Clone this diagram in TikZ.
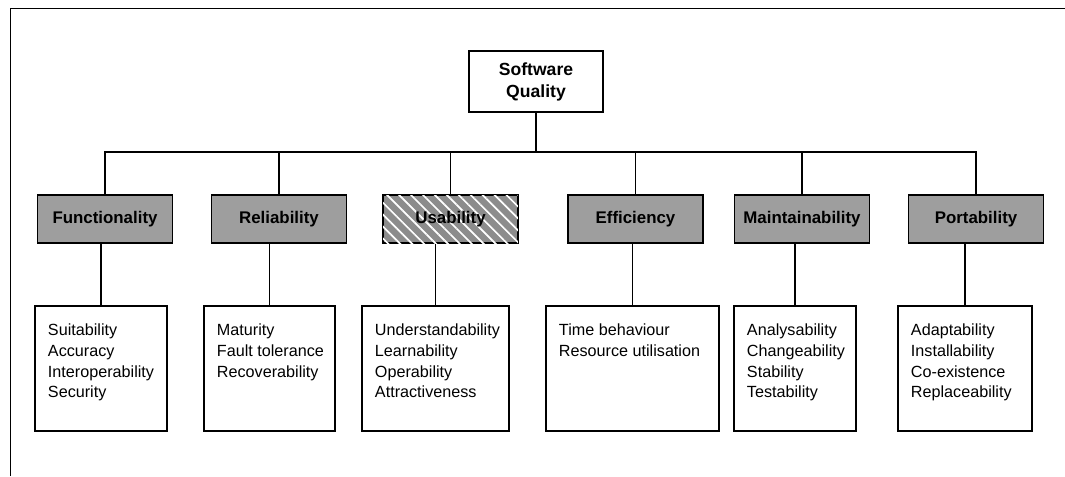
\documentclass[tikz,border=0pt]{standalone}
\usepackage{fontspec}
\setmainfont{Liberation Sans}
\usepackage{xcolor}
\usepackage{tikz}
\usetikzlibrary{patterns.meta}

\definecolor{factorgray}{RGB}{158,158,158}
\definecolor{hatchgray}{RGB}{140,140,140}
\newcommand{\attrlist}[2]{\parbox[c][63pt][t]{#1}{\raggedright #2}}

\begin{document}
\begin{tikzpicture}[x=0.025cm, y=-0.025cm,
    root/.style={rectangle, draw, line width=0.9pt, minimum width=3.35cm, minimum height=1.525cm, align=center, font=\bfseries\fontsize{12.5}{15.6}\selectfont},
    factor/.style={rectangle, draw, line width=1pt, fill=factorgray, minimum width=3.37cm, minimum height=1.2cm, font=\bfseries\fontsize{12}{14}\selectfont},
    attrbox/.style={rectangle, draw, line width=0.9pt, inner xsep=0.325cm, inner ysep=13pt, font=\fontsize{11.5}{14.7}\selectfont},
    link/.style={line width=1pt}]

    \useasboundingbox (0,0) rectangle (1065,476);
    \draw[line width=0.6pt] (10,476) -- (10,8) -- (1065,8);

    \node[root] (quality) at (536,81.5) {Software\\Quality};

    \node[factor] (func) at (105,219) {Functionality};
    \node[factor] (reli) at (279,219) {Reliability};
    \node[factor, fill=hatchgray, preaction={fill=hatchgray}, postaction={pattern={Lines[angle=135, distance=6pt, line width=1.2pt]}, pattern color=white}] (usab) at (450.5,219) {\phantom{Usability}};
    \node[font=\bfseries\fontsize{12}{14}\selectfont] (usabtext) at (usab) {Usability};
    \node[factor] (effi) at (635.5,219) {Efficiency};
    \node[factor] (main) at (802,219) {Maintainability};
    \node[factor] (port) at (976,219) {Portability};

    \node[attrbox] (funcsub) at (101,368.5) {\attrlist{2.65cm}{Suitability\\Accuracy\\Interoperability\\Security}};
    \node[attrbox] (relisub) at (269.5,368.5) {\attrlist{2.625cm}{Maturity\\\mbox{Fault tolerance}\\Recoverability}};
    \node[attrbox] (usabsub) at (435.5,368.5) {\attrlist{3.025cm}{Understandability\\Learnability\\Operability\\Attractiveness}};
    \node[attrbox] (effisub) at (632.5,368.5) {\attrlist{3.675cm}{Time behaviour\\Resource utilisation}};
    \node[attrbox] (mainsub) at (795,368.5) {\attrlist{2.4cm}{Analysability\\Changeability\\Stability\\Testability}};
    \node[attrbox] (portsub) at (965,368.5) {\attrlist{2.7cm}{Adaptability\\Installability\\Co-existence\\Replaceability}};

    \coordinate (bus) at (536,152);
    \draw[link, line width=1.3pt] (quality.south) -- (bus);
    \draw[link] (func.north) -- (func.north |- bus) -- (port.north |- bus) -- (port.north);
    \draw[link] (reli.north) -- (reli.north |- bus);
    \draw[link] (usab.north) -- (usab.north |- bus);
    \draw[link] (effi.north) -- (effi.north |- bus);
    \draw[link] (main.north) -- (main.north |- bus);

    \draw[link] (funcsub.north) -- (funcsub.north |- func.south);
    \draw[link] (relisub.north) -- (relisub.north |- reli.south);
    \draw[link] (usabsub.north) -- (usabsub.north |- usab.south);
    \draw[link] (effisub.north) -- (effisub.north |- effi.south);
    \draw[link] (mainsub.north) -- (mainsub.north |- main.south);
    \draw[link] (portsub.north) -- (portsub.north |- port.south);

\end{tikzpicture}
\end{document}
